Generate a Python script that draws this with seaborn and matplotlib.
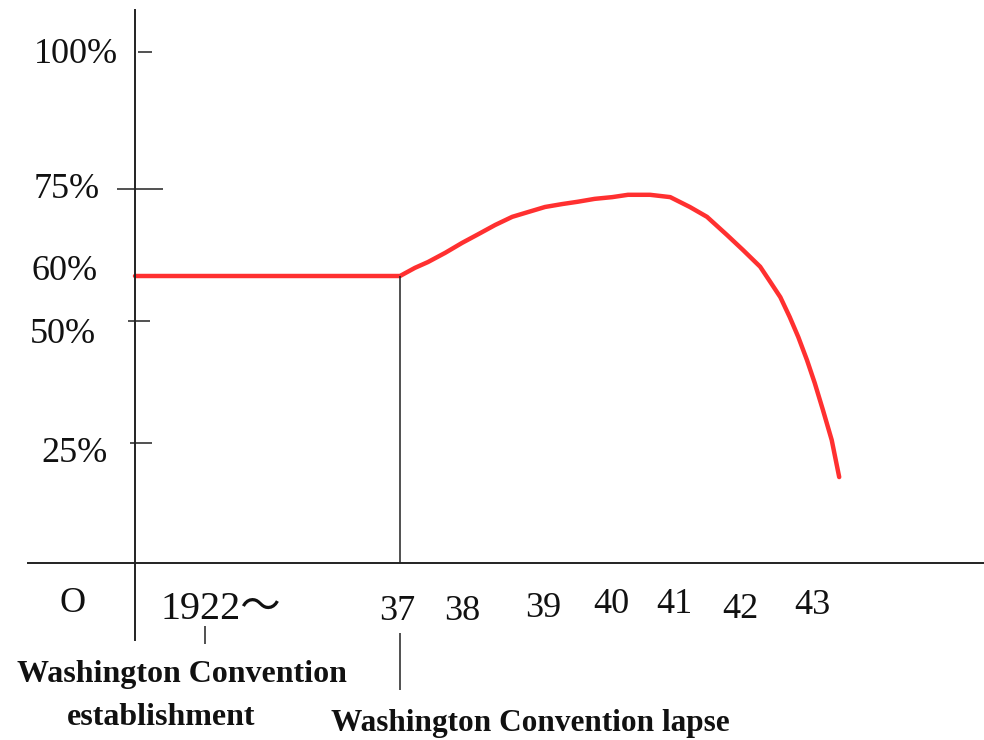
import numpy as np
import matplotlib
matplotlib.use("Agg")
import matplotlib.pyplot as plt
import seaborn as sns

# --- datos ---
years = [1916, 1937, 1937.24, 1937.45, 1937.73, 1938.00, 1938.20, 1938.41, 1938.62,
         1938.81, 1939.03, 1939.28, 1939.51, 1939.76, 1940.02, 1940.27, 1940.62,
         1940.94, 1941.24, 1941.50, 1941.80, 1942.04, 1942.28, 1942.42, 1942.56,
         1942.69, 1942.81, 1942.93, 1943.04, 1943.16, 1943.29, 1943.40]
share = [60, 60, 61.4, 62.4, 64.0, 65.7, 67.2, 68.8, 70.2,
         71.0, 71.9, 72.4, 72.8, 73.3, 73.6, 74.0, 74.0,
         73.6, 71.9, 70.2, 67.1, 64.5, 61.6, 58.7, 55.3,
         50.9, 46.7, 42.0, 37.3, 31.8, 25.6, 17.9]

pct_values = [100, 75, 60, 50, 25]
pct_labels = ["100%", "75%", "60%", "50%", "25%"]
year_values = [1922, 1937, 1938, 1939, 1940, 1941, 1942, 1943]
year_labels = ["1922～", "37", "38", "39", "40", "41", "42", "43"]

# --- escala dibujada a mano (no lineal): valor -> posición en px ---
year_knots = [1900, 1916, 1922, 1937, 1938, 1939, 1940, 1941, 1942, 1943, 1950]
year_px = [-73, 135, 205, 400, 462, 543, 611, 674, 740, 812, 1288]
pct_knots = [-40, 0, 25, 50, 60, 75, 100, 120]
pct_px = [-15, 177, 297, 419, 464, 551, 688, 798]


def fx(v):
    return np.interp(v, year_knots, year_px)


def fx_inv(p):
    return np.interp(p, year_px, year_knots)


def fy(v):
    return np.interp(v, pct_knots, pct_px)


def fy_inv(p):
    return np.interp(p, pct_px, pct_knots)


sns.set_theme(style="white")
plt.rcParams["font.family"] = ["Liberation Serif", "Noto Sans CJK JP", "DejaVu Serif"]

W, H = 984, 740
fig = plt.figure(figsize=(W / 100, H / 100), dpi=100)
ax = fig.add_axes([0, 0, 1, 1])

sns.lineplot(x=years, y=share, color="#ff3030", linewidth=3.2, ax=ax,
             solid_capstyle="round", solid_joinstyle="round")

ax.set_xscale("function", functions=(fx, fx_inv))
ax.set_yscale("function", functions=(fy, fy_inv))
ax.set_xlim(fx_inv(0), fx_inv(W))
ax.set_ylim(fy_inv(0), fy_inv(H))
ax.set_xticks([])
ax.set_yticks([])
ax.set_facecolor("white")

# ejes cruzados
axis_col = "#222222"
for s in ["top", "right"]:
    ax.spines[s].set_visible(False)
ax.spines["left"].set_position(("data", 1916))
ax.spines["left"].set_bounds(fy_inv(H - 640), fy_inv(H - 10))
ax.spines["bottom"].set_position(("data", 0))
ax.spines["bottom"].set_bounds(fx_inv(28), fx_inv(W))
for s in ["left", "bottom"]:
    ax.spines[s].set_color(axis_col)
    ax.spines[s].set_linewidth(1.4)

# marcas del eje y (trazo a mano, longitudes distintas)
tick_extent = {100: (138, 152), 75: (117, 163), 50: (128, 150), 25: (130, 152)}
for v, (x0, x1) in tick_extent.items():
    ax.hlines(v, x0 / W, x1 / W, transform=ax.get_yaxis_transform(),
              color=axis_col, lw=1.1)

# etiquetas del eje y
label_right = [118, 100, 98, 96, 108]
label_dy = [-11, -9, -4, -22, -19]
for v, lab, xr, dy in zip(pct_values, pct_labels, label_right, label_dy):
    ax.annotate(lab, xy=(xr / W, v), xycoords=("axes fraction", "data"),
                xytext=(0, dy), textcoords="offset pixels",
                ha="right", va="baseline", fontsize=26, color="#111111")

# etiquetas del eje x
year_dx = [-45, -3, 0, 0, 0, 0, 0, 0]
year_dy = [-56, -57, -57, -54, -50, -50, -55, -51]
for v, lab, dx, dy in zip(year_values, year_labels, year_dx, year_dy):
    ax.annotate(lab, xy=(v, 0), xytext=(dx, dy), textcoords="offset pixels",
                ha="left" if v == 1922 else "center", va="baseline",
                fontsize=29 if v == 1922 else 26, color="#111111")
ax.annotate("O", xy=(1916, 0), xytext=(-62, -49), textcoords="offset pixels",
            ha="center", va="baseline", fontsize=26, color="#111111")

# líneas de referencia de los eventos
ax.vlines(1937, 0, 60, color=axis_col, lw=1.1)
ax.vlines(1937, fy_inv(H - 690), fy_inv(H - 633), color=axis_col, lw=1.1)
ax.vlines(1922, fy_inv(H - 644), fy_inv(H - 626), color=axis_col, lw=1.1)

ax.annotate("Washington Convention", xy=(1922, 0), xytext=(-23, -119),
            textcoords="offset pixels", ha="center", va="baseline",
            fontsize=23, fontweight="bold", color="#111111")
ax.annotate("establishment", xy=(1922, 0), xytext=(-44, -162),
            textcoords="offset pixels", ha="center", va="baseline",
            fontsize=23, fontweight="bold", color="#111111")
ax.annotate("Washington Convention lapse", xy=(1937, 0), xytext=(130, -168),
            textcoords="offset pixels", ha="center", va="baseline",
            fontsize=22.5, fontweight="bold", color="#111111")

fig.savefig("out.png", dpi=100, facecolor="white")
